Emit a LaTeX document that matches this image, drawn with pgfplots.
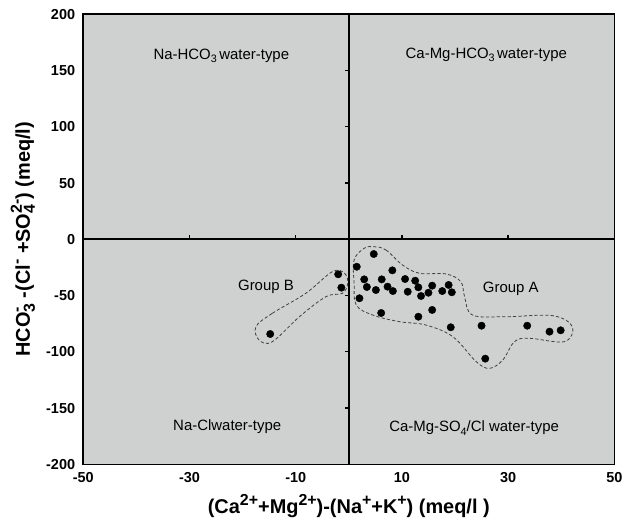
\documentclass[border=0pt]{standalone}
\usepackage{graphicx}
\usepackage{pgfplots}
\pgfplotsset{compat=1.18}
\usepackage{fontspec}
\setmainfont{Liberation Sans}
\setsansfont{Liberation Sans}
\definecolor{bg}{HTML}{CFD1D1}
\newcommand\up[1]{\raisebox{.42em}{\scalebox{.72}{#1}}}
\newcommand\dn[1]{\raisebox{-.22em}{\scalebox{.72}{#1}}}
\newcommand\bup[1]{\raisebox{.40em}{\scalebox{.8}{#1}}}
\newcommand\bdn[1]{\raisebox{-.25em}{\scalebox{.8}{#1}}}
\newcommand\subsup[2]{\sbox0{\bup{#2}}\sbox2{\bdn{#1}}\ifdim\wd0>\wd2 \rlap{\usebox2}\usebox0\else\rlap{\usebox0}\usebox2\fi}
\begin{document}
\begin{tikzpicture}
\begin{axis}[
  width=531bp, height=450bp, scale only axis,
  xmin=-50, xmax=50, ymin=-200, ymax=200,
  xtick={-50,-30,-10,10,30,50},
  ytick={-200,-150,-100,-50,0,50,100,150,200},
  major tick length=0pt,
  /pgf/number format/assume math mode=true,
  tick label style={font=\bfseries\fontsize{14.5}{14.5}\selectfont, inner sep=0pt},
  xticklabel style={anchor=center, yshift=-13.7bp},
  yticklabel style={anchor=east, xshift=-8bp},
  axis line style={line width=1.6bp},
  axis background/.style={fill=bg},
  xlabel={(Ca\bup{2+}+Mg\bup{2+})-(Na\bup{+}+K\bup{+}) (meq/l )},
  ylabel={HCO\subsup{3}{-} -(Cl\bup{-} +SO\subsup{4}{2-}) (meq/l)},
  label style={font=\bfseries\fontsize{20}{20}\selectfont, inner sep=0pt},
  xlabel style={at={(rel axis cs:0.5,0)}, anchor=base, yshift=-49bp},
  ylabel style={at={(rel axis cs:0,0.5)}, anchor=base, yshift=53.5bp},
  clip=false,
]
\coordinate (sw) at (rel axis cs:0,0);
\coordinate (ne) at (rel axis cs:1,1);
% quadrant lines
\draw[line width=1.6bp] (axis cs:0,-200) -- (axis cs:0,200);
\draw[line width=1.6bp] (axis cs:-50,0) -- (axis cs:50,0);
% ticks on central lines
\draw[line width=1.3bp] (axis cs:-30,0) -- (axis cs:-30,3.6);
\draw[line width=1.3bp] (axis cs:-10,0) -- (axis cs:-10,3.6);
\draw[line width=1.3bp] (axis cs:10,0) -- (axis cs:10,3.6);
\draw[line width=1.3bp] (axis cs:30,0) -- (axis cs:30,3.6);
\draw[line width=1.3bp] (axis cs:0,150) -- (axis cs:-0.75,150);
\draw[line width=1.3bp] (axis cs:0,100) -- (axis cs:-0.75,100);
\draw[line width=1.3bp] (axis cs:0,50) -- (axis cs:-0.75,50);
\draw[line width=1.3bp] (axis cs:0,-50) -- (axis cs:-0.75,-50);
\draw[line width=1.3bp] (axis cs:0,-100) -- (axis cs:-0.75,-100);
\draw[line width=1.3bp] (axis cs:0,-150) -- (axis cs:-0.75,-150);
% group outlines
\draw[dash pattern=on 3.2bp off 2.2bp, line width=0.8bp, black!75] plot[smooth cycle, tension=0.6] coordinates {
 (axis cs:4.8,-6.6) (axis cs:7.0,-9.5) (axis cs:10.1,-22.8) (axis cs:13.3,-30.2) (axis cs:18.3,-30.8)
 (axis cs:21.1,-37.7) (axis cs:21.8,-51) (axis cs:23.3,-67.3) (axis cs:29.6,-68.8) (axis cs:38.4,-67.9)
 (axis cs:42.1,-77.7) (axis cs:40.6,-91) (axis cs:34.0,-88) (axis cs:31.2,-91) (axis cs:29.0,-107.3)
 (axis cs:26.5,-114.7) (axis cs:24.0,-108.8) (axis cs:19.6,-86.6) (axis cs:14.5,-76.2) (axis cs:9.5,-73.2)
 (axis cs:4.5,-67.3) (axis cs:1.4,-58.4) (axis cs:1.0,-39.1) (axis cs:1.0,-18.4) (axis cs:2.9,-8.0)};
\draw[dash pattern=on 3.2bp off 2.2bp, line width=0.8bp, black!75] plot[smooth cycle, tension=0.6] coordinates {
 (axis cs:-17.5,-77.7) (axis cs:-14.4,-65.8) (axis cs:-8.1,-48) (axis cs:-3.1,-28.8) (axis cs:-0.8,-30.2)
 (axis cs:-0.2,-39.1) (axis cs:-1.2,-48) (axis cs:-4.3,-51) (axis cs:-9.3,-68.8) (axis cs:-14.4,-91)
 (axis cs:-16.9,-89.5)};
% data
\addplot[only marks, mark=*, mark size=3.7bp, black] coordinates {
 (-14.8,-84.2) (-2.0,-31.1) (-1.4,-43.0)
 (4.7,-13.1) (1.5,-24.4) (8.2,-27.6) (2.9,-35.6) (6.2,-35.6) (10.6,-35.3) (12.5,-36.8)
 (3.4,-42.4) (5.1,-45.1) (7.3,-42.1) (8.3,-46) (11.1,-46.6) (13.1,-42.7) (13.6,-50.4)
 (15.0,-47.5) (15.7,-41.2) (17.6,-46) (18.8,-40.6) (19.4,-47.1) (2.0,-52.4) (6.1,-65.5)
 (13.1,-68.8) (15.7,-62.8) (19.2,-78.2) (25.0,-76.8) (25.7,-106.1) (33.6,-76.8)
 (37.8,-82.1) (39.9,-80.9)};
% labels
\node[font=\fontsize{15}{15}\selectfont] at (axis cs:-24.0,163.2) {Na-HCO\dn{3}\,water-type};
\node[font=\fontsize{15}{15}\selectfont] at (axis cs:25.9,163.8) {Ca-Mg-HCO\dn{3}\,water-type};
\node[font=\fontsize{15}{15}\selectfont] at (axis cs:-22.9,-166.8) {Na-Clwater-type};
\node[font=\fontsize{15}{15}\selectfont] at (axis cs:23.6,-167.7) {Ca-Mg-SO\dn{4}/Cl water-type};
\node[font=\fontsize{15}{15}\selectfont] at (axis cs:-15.6,-42.1) {Group B};
\node[font=\fontsize{15}{15}\selectfont] at (axis cs:30.5,-43.6) {Group A};
\end{axis}
\pgfresetboundingbox
\path ([shift={(-83.3bp,-57.7bp)}]sw) rectangle ([shift={(21.7bp,14.3bp)}]ne);
\end{tikzpicture}
\end{document}
